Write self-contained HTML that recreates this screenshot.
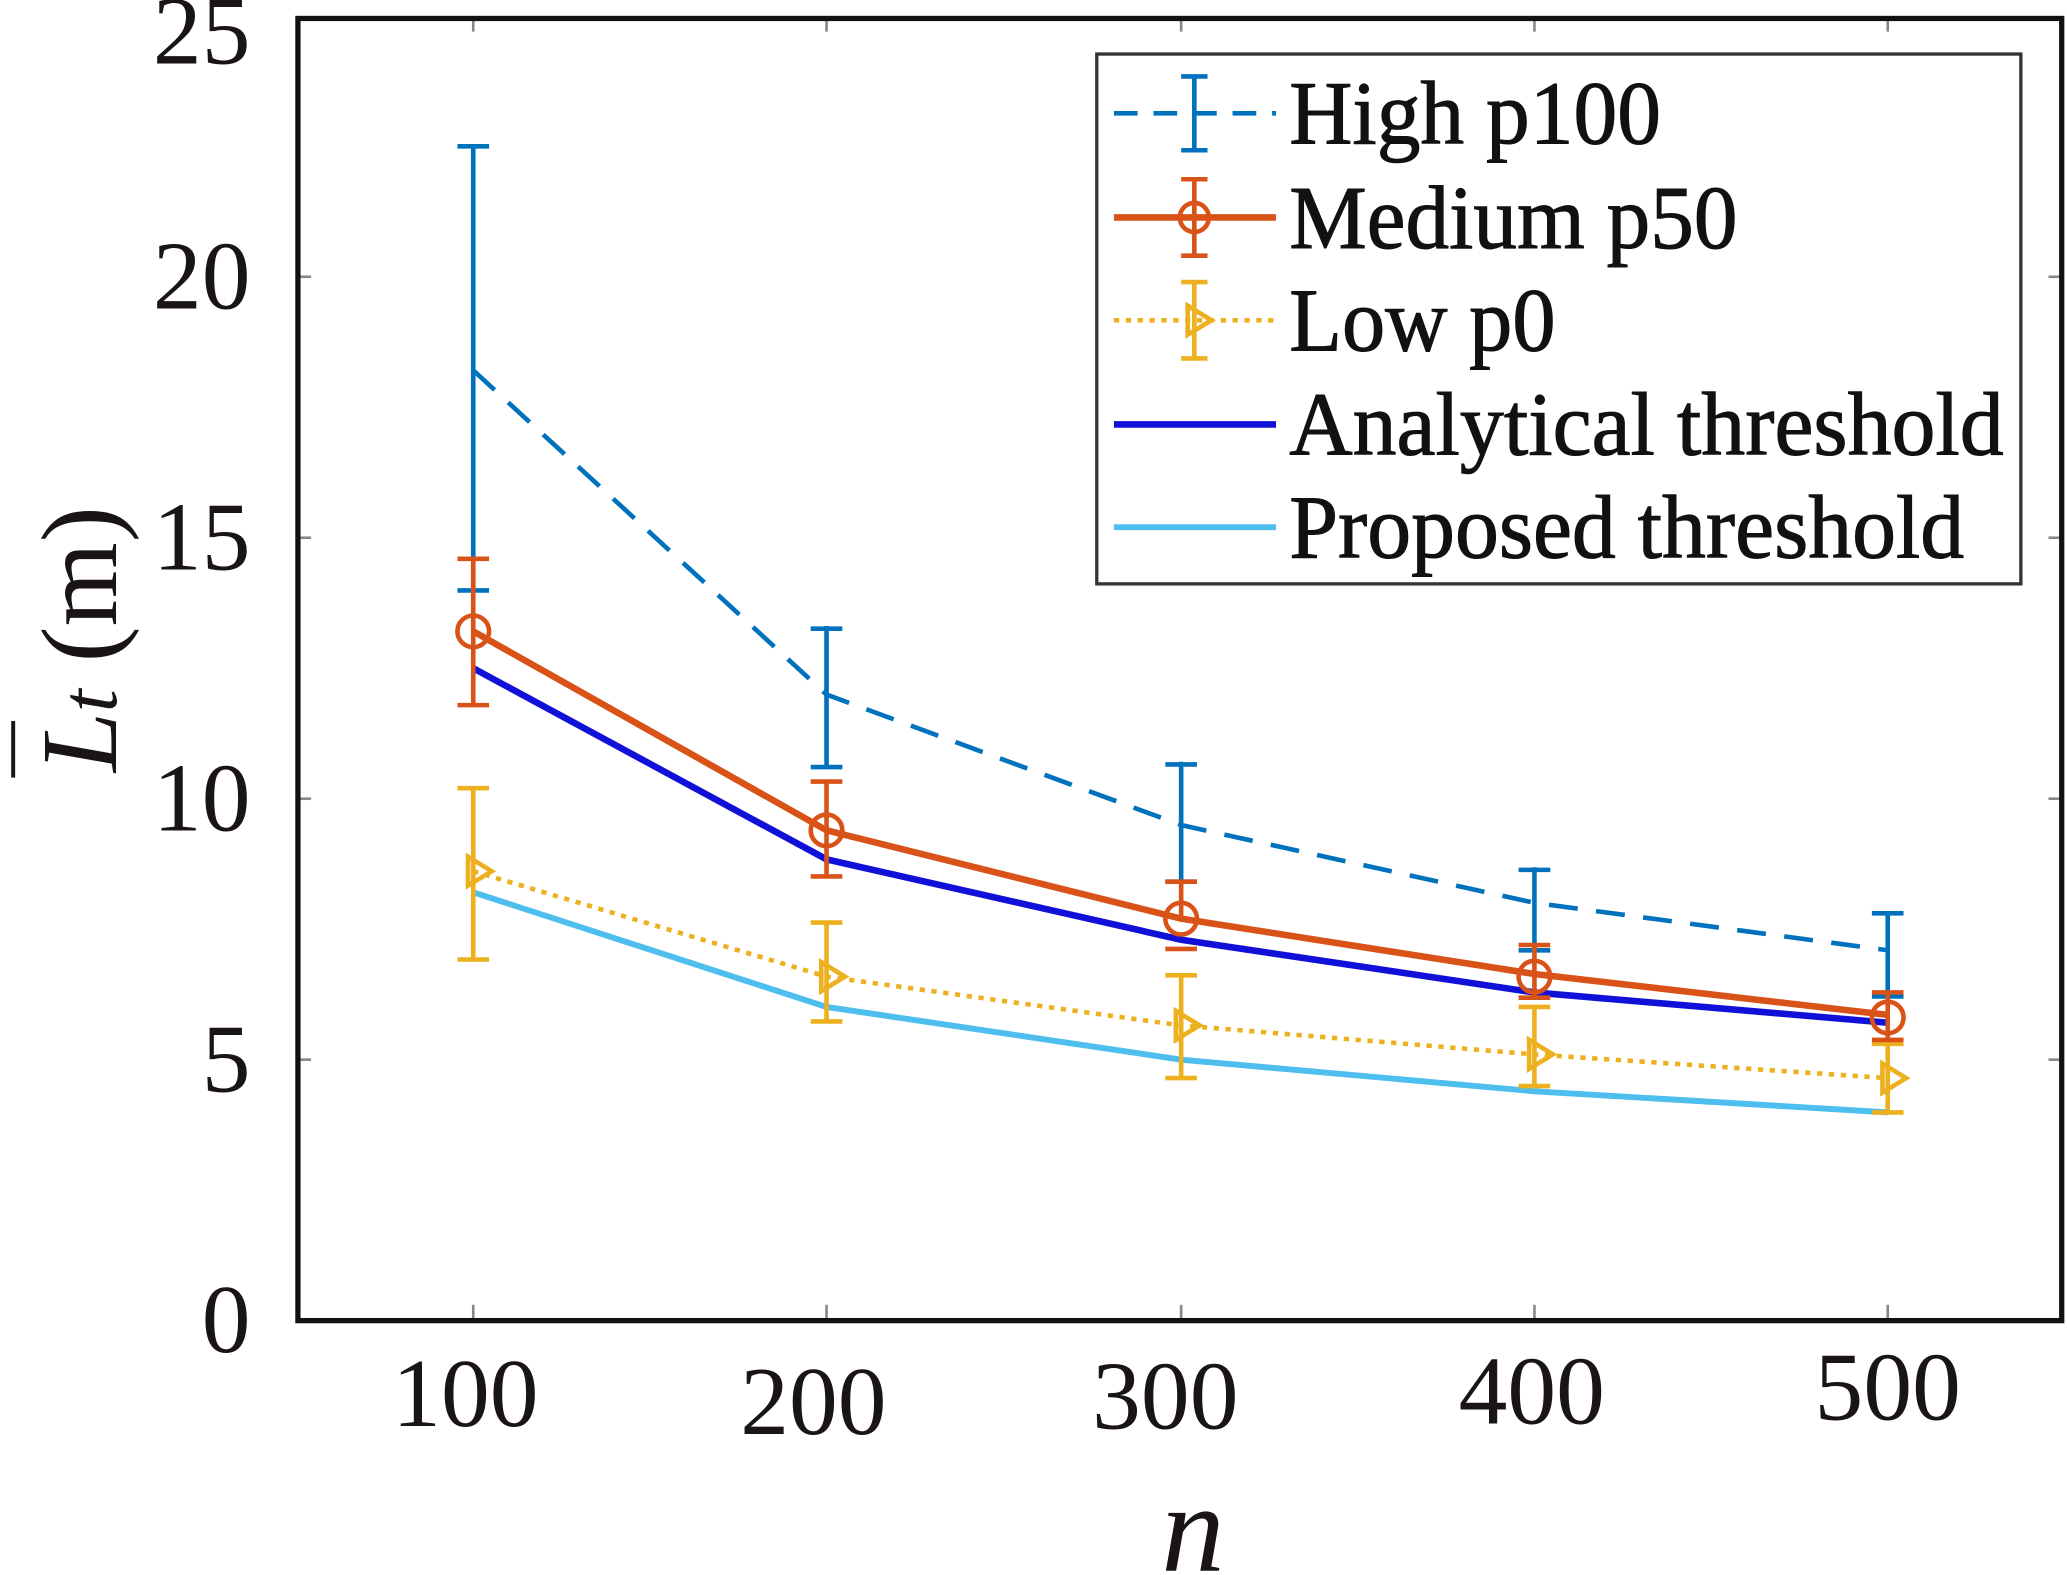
<!DOCTYPE html>
<html><head><style>html,body{margin:0;padding:0;background:#fff;}svg{display:block}</style></head>
<body>
<svg width="2067" height="1575" viewBox="0 0 1568 1195" preserveAspectRatio="none" xmlns="http://www.w3.org/2000/svg" font-family="Liberation Serif, serif">
<rect width="1568" height="1195" fill="#fff"/>
<g stroke="#888" stroke-width="2">
<line x1="226" y1="804" x2="236" y2="804"/><line x1="226" y1="606" x2="236" y2="606"/><line x1="226" y1="408" x2="236" y2="408"/><line x1="226" y1="210" x2="236" y2="210"/>
<line x1="1564" y1="804" x2="1554" y2="804"/><line x1="1564" y1="606" x2="1554" y2="606"/><line x1="1564" y1="408" x2="1554" y2="408"/><line x1="1564" y1="210" x2="1554" y2="210"/>
<line x1="359" y1="1000" x2="359" y2="990"/><line x1="627" y1="1000" x2="627" y2="990"/><line x1="896" y1="1000" x2="896" y2="990"/><line x1="1164" y1="1000" x2="1164" y2="990"/><line x1="1432" y1="1000" x2="1432" y2="990"/>
<line x1="359" y1="14" x2="359" y2="24"/><line x1="627" y1="14" x2="627" y2="24"/><line x1="896" y1="14" x2="896" y2="24"/><line x1="1164" y1="14" x2="1164" y2="24"/><line x1="1432" y1="14" x2="1432" y2="24"/>
</g>
<polyline fill="none" stroke="#4dbeee" stroke-width="4.5" points="359,677 627,764 896,804 1164,828 1432,844"/>
<polyline fill="none" stroke="#1010d8" stroke-width="5" points="359,507 627,652 896,713 1164,753 1432,776"/>
<g stroke="#edb120" stroke-width="3.5" fill="none">
<polyline stroke-dasharray="4,5" points="359,661 627,741 896,778 1164,800 1432,818"/>
<path d="M359,598V728M627,700V775M896,740V818M1164,764V824M1432,792V844"/>
<path d="M347,598h24M347,728h24M615,700h24M615,775h24M884,740h24M884,818h24M1152,764h24M1152,824h24M1420,792h24M1420,844h24"/>
<path d="M355,650l18,11l-18,11zM623,730l18,11l-18,11zM892,767l18,11l-18,11zM1160,789l18,11l-18,11zM1428,807l18,11l-18,11z"/>
</g>
<g stroke="#0072bd" stroke-width="3.5" fill="none">
<polyline stroke-dasharray="22,14" points="359,281 627,527 896,626 1164,685 1432,721"/>
<path d="M359,448V110M627,582V475M896,669V578M1164,721V658M1432,756V693"/>
<path d="M347,448h24M347,111h24M615,582h24M615,477h24M884,669h24M884,580h24M1152,721h24M1152,660h24M1420,756h24M1420,693h24"/>
</g>
<g stroke="#d95319" stroke-width="3.5" fill="none">
<polyline stroke-width="5" points="359,479 627,630 896,697 1164,739 1432,770"/>
<path d="M359,424V535M627,593V665M896,669V697M1164,717V757M1432,753V789"/>
<path d="M347,424h24M347,535h24M615,593h24M615,665h24M884,669h24M884,720h24M1152,717h24M1152,757h24M1420,753h24M1420,789h24"/>
<circle cx="359" cy="479" r="12"/><circle cx="627" cy="630" r="12"/><circle cx="896" cy="697" r="12"/><circle cx="1164" cy="741" r="12"/><circle cx="1432" cy="772" r="12"/>
</g>
<rect x="226" y="14" width="1338" height="988" fill="none" stroke="#111" stroke-width="4"/>
<g font-size="74" fill="#1a1414" text-anchor="end">
<text x="190" y="1026">0</text><text x="190" y="828">5</text><text x="190" y="630">10</text><text x="190" y="432">15</text><text x="190" y="234">20</text><text x="190" y="48">25</text>
</g>
<g font-size="74" fill="#1a1414" text-anchor="middle">
<text x="353" y="1082">100</text><text x="617" y="1088">200</text><text x="884" y="1084">300</text><text x="1162" y="1080">400</text><text x="1432" y="1077">500</text>
</g>
<text x="905" y="1192" font-size="96" font-style="italic" text-anchor="middle" fill="#1a1414">n</text>
<g transform="translate(88,485) rotate(-90)" fill="#1a1414">
<text x="0" y="0" font-size="82" text-anchor="middle"><tspan font-style="italic">L</tspan><tspan font-style="italic" font-size="62">t</tspan> (m)</text>
<line x1="-105" y1="-78" x2="-62" y2="-78" stroke="#1a1414" stroke-width="3"/>
</g>
<rect x="832" y="41" width="701" height="402" fill="#fff" stroke="#333" stroke-width="2.5"/>
<g font-size="68" fill="#111" stroke="#111" stroke-width="0.8">
<text x="978" y="109" textLength="282" lengthAdjust="spacingAndGlyphs">High p100</text>
<text x="978" y="188" textLength="340" lengthAdjust="spacingAndGlyphs">Medium p50</text>
<text x="978" y="266" textLength="202" lengthAdjust="spacingAndGlyphs">Low p0</text>
<text x="978" y="345" textLength="542" lengthAdjust="spacingAndGlyphs">Analytical threshold</text>
<text x="978" y="423" textLength="512" lengthAdjust="spacingAndGlyphs">Proposed threshold</text>
</g>
<g fill="none">
<line x1="845" y1="86" x2="968" y2="86" stroke="#0072bd" stroke-width="3.5" stroke-dasharray="18,12"/>
<path d="M906,58V114M896,58h20M896,114h20" stroke="#0072bd" stroke-width="3.5"/>
<line x1="845" y1="165" x2="968" y2="165" stroke="#d95319" stroke-width="5"/>
<path d="M906,136V194M896,136h20M896,194h20" stroke="#d95319" stroke-width="3.5"/>
<circle cx="906" cy="165" r="11" stroke="#d95319" stroke-width="3.5"/>
<line x1="845" y1="243" x2="968" y2="243" stroke="#edb120" stroke-width="3.5" stroke-dasharray="4,5"/>
<path d="M906,214V272M896,214h20M896,272h20M901,232l18,11l-18,11z" stroke="#edb120" stroke-width="3.5"/>
<line x1="845" y1="322" x2="968" y2="322" stroke="#1010d8" stroke-width="5"/>
<line x1="845" y1="400" x2="968" y2="400" stroke="#4dbeee" stroke-width="4.5"/>
</g>
</svg>
</body></html>
